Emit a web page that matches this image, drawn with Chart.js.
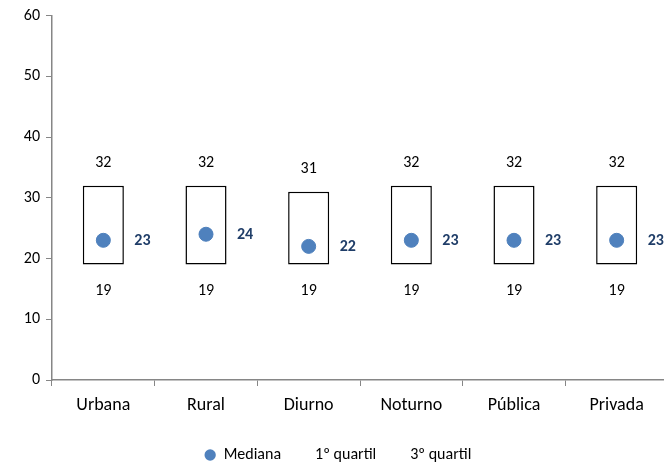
<!DOCTYPE html>
<html>
<head>
<meta charset="utf-8">
<title>Quartis</title>
<style>
  body { margin: 0; background: #fff; }
  #box { width: 664px; height: 462px; overflow: hidden; }
</style>
</head>
<body>
<div id="box">
  <canvas id="QuartilChart" width="676" height="473"></canvas>
</div>
<script src="https://cdn.jsdelivr.net/npm/chart.js"></script>
<script>
// dados
const categorias = ['Urbana', 'Rural', 'Diurno', 'Noturno', 'Pública', 'Privada'];
const quartil1 = [19, 19, 19, 19, 19, 19];
const mediana = [23, 24, 22, 23, 23, 23];
const quartil3 = [32, 32, 31, 32, 32, 32];
const yTicks = [0, 10, 20, 30, 40, 50, 60];

const fonte = 'Carlito, Lato, "Open Sans", sans-serif';
const azul = '#4F81BD';
const cinza = '#868686';

// caixas entre 1o e 3o quartil
const caixas = quartil1.map((q, i) => [q, quartil3[i]]);

// escreve os rotulos em cima, embaixo e ao lado
const rotulos = {
  id: 'rotulos',
  afterDatasetsDraw(chart) {
    const ctx = chart.ctx;
    const x = chart.scales.x, y = chart.scales.y;
    ctx.save();
    ctx.textBaseline = 'middle';
    categorias.forEach((c, i) => {
      const px = x.getPixelForValue(i);
      ctx.fillStyle = '#000';
      ctx.font = '16px ' + fonte;
      ctx.textAlign = 'center';
      ctx.fillText(quartil3[i], px, y.getPixelForValue(quartil3[i]) - 23);
      ctx.fillText(quartil1[i], px, y.getPixelForValue(quartil1[i]) + 26);
      ctx.fillStyle = '#1F3D68';
      ctx.font = 'bold 16px ' + fonte;
      ctx.textAlign = 'left';
      ctx.fillText(mediana[i], px + 31, y.getPixelForValue(mediana[i]) + 1);
    });
    ctx.restore();
  }
};

new Chart(document.getElementById('QuartilChart'), {
  type: 'bar',
  data: {
    labels: categorias,
    datasets: [{
      label: 'caixa',
      data: caixas,
      backgroundColor: '#fff',
      borderColor: '#000',
      borderWidth: 1.5,
      borderSkipped: false,
      barPercentage: 0.4,
      categoryPercentage: 1,
      order: 2
    }, {
      type: 'line',
      label: 'Mediana',
      data: mediana,
      showLine: false,
      pointRadius: 7,
      pointBackgroundColor: azul,
      pointBorderColor: azul,
      order: 1
    }, {
      type: 'line',
      label: '1º quartil',
      data: quartil1,
      showLine: false,
      pointRadius: 0,
      order: 3
    }, {
      type: 'line',
      label: '3º quartil',
      data: quartil3,
      showLine: false,
      pointRadius: 0,
      order: 4
    }]
  },
  options: {
    responsive: false,
    animation: false,
    layout: { padding: { top: 7, right: 0, left: 0, bottom: 0 } },
    plugins: {
      tooltip: { enabled: false },
      legend: {
        position: 'bottom',
        labels: {
          font: { family: fonte, size: 16 },
          color: '#000',
          usePointStyle: true,
          boxWidth: 11,
          boxHeight: 8,
          padding: 15,
          generateLabels() {
            return ['Mediana', '1º quartil', '3º quartil'].map((t, i) => ({
              text: t,
              pointStyle: 'circle',
              fillStyle: i === 0 ? azul : 'rgba(0,0,0,0)',
              strokeStyle: i === 0 ? azul : 'rgba(0,0,0,0)',
              lineWidth: 0,
              datasetIndex: i + 1
            }));
          }
        }
      }
    },
    scales: {
      x: {
        offset: true,
        afterFit(scale) { scale.height = 52; },
        grid: { offset: true, drawOnChartArea: false, tickLength: 6, color: cinza },
        border: { color: cinza, width: 1.5 },
        ticks: { font: { family: fonte, size: 18 }, color: '#000', padding: 9 }
      },
      y: {
        min: 0,
        max: 60,
        afterFit(scale) { scale.width = 52; },
        afterBuildTicks(axis) { axis.ticks = yTicks.map(v => ({ value: v })); },
        grid: { drawOnChartArea: false, tickLength: 6, color: cinza },
        border: { color: cinza, width: 1.5 },
        ticks: { font: { family: fonte, size: 16 }, color: '#000', padding: 6 }
      }
    }
  },
  plugins: [rotulos]
});
</script>
</body>
</html>
